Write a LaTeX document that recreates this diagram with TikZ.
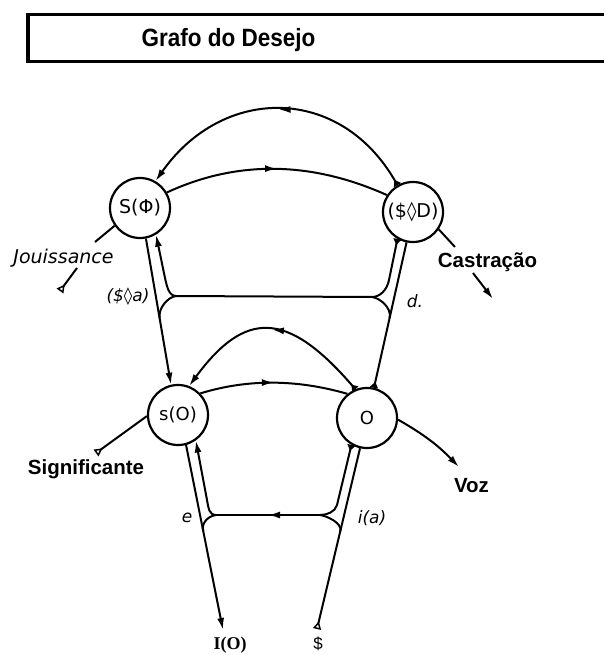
\documentclass[tikz,border=0pt]{standalone}
\usepackage{fontspec}
\setmainfont{Liberation Sans}
\newfontfamily\titulofont[FakeStretch=0.9]{Liberation Sans}
\newfontfamily\grafofont{DejaVu Sans}
\newfontfamily\seriffont{Liberation Serif}
\usetikzlibrary{arrows.meta,decorations.markings}

\tikzset{
  circulo/.style={draw,circle,line width=2.2pt,minimum size=60pt,inner sep=0pt,
    font=\grafofont\fontsize{19}{19}\selectfont},
  vetor/.style={line width=2pt},
  ponta/.style={arrows={-Latex[length=12pt,width=7pt]}},
  abre/.style={arrows={Triangle[reversed,length=6pt,width=8pt]-}},
  cauda/.style={arrows={-Triangle[open,reversed,length=8pt,width=8pt,line width=1.5pt]}},
  meio/.style={postaction={decorate},decoration={markings,
    mark=at position #1 with {\arrow{Latex[length=12pt,width=7pt]}}}},
  rotulo/.style={inner sep=0pt,anchor=base,font=\bfseries\fontsize{20.5}{20.5}\selectfont},
  ital/.style={inner sep=0pt,anchor=base,font=\grafofont\itshape\fontsize{17}{17}\selectfont}
}

\begin{document}
\begin{tikzpicture}[x=1pt,y=1pt]
  \useasboundingbox[fill=white] (0,0) rectangle (604,-655);
  %titulo
  \draw[line width=3.5pt] (28,-14.3) rectangle (612,-61.3);
  \node[inner sep=0pt,anchor=base,font=\titulofont\bfseries\fontsize{25}{25}\selectfont]
    (titulo) at (228.5,-46.5) {Grafo do Desejo};
  %nos
  \node[circulo] (sphi) at (140,-208) {S(Φ)};
  \node[circulo] (sbd) at (413,-212) {(\$◊D)};
  \node[circulo,font=\grafofont\fontsize{18}{18}\selectfont] (so) at (178,-415) {s(O)};
  \node[circulo,font=\grafofont\fontsize{18}{18}\selectfont] (ao) at (367,-418) {O};
  %pontos soltos
  \coordinate (j1) at (176,-296);
  \coordinate (j2) at (372,-297);
  \coordinate (j3) at (216,-515);
  \coordinate (j4) at (320,-515);
  \coordinate (ioend) at (223,-630);
  \coordinate (sbar) at (317,-629);
  \coordinate (cas1) at (455,-247);
  \coordinate (cas2) at (473,-273);
  \coordinate (cas3) at (493,-299);
  \coordinate (jou1) at (95,-242);
  \coordinate (jou2) at (77,-268);
  \coordinate (jou3) at (60,-291);
  \coordinate (sig1) at (96,-453);
  \coordinate (voz1) at (459,-467);
  \path (sphi.-79) -- (so.103) coordinate[pos=0.546] (jA);
  \path (sbd.-102) -- (ao.77) coordinate[pos=0.52] (jB);
  \path (so.-75) -- (ioend) coordinate[pos=0.466] (jC);
  \path (ao.-103) -- (sbar) coordinate[pos=0.459] (jD);
  %andar de cima
  \draw[vetor,arrows={Triangle[reversed,length=6pt,width=8pt]-Latex[length=12pt,width=7pt]},meio=0.5]
    (sbd.120) .. controls (340,-85) and (223,-85) .. (sphi.60);
  \draw[vetor,meio=0.5] (sphi.30) .. controls (237,-160) and (311,-161) .. (sbd.147);
  \draw[vetor,ponta] (sphi.-79) -- (so.103);
  \draw[vetor,ponta] (j1) .. controls (169,-296) and (167,-287) .. (165,-278) -- (sphi.-59);
  \draw[vetor] (j1) .. controls (168,-297) and (158,-308) .. (jA);
  \draw[vetor] (j1) -- (j2);
  \draw[vetor,abre] (sbd.-120) -- (389,-280) .. controls (387,-290) and (380,-297) .. (j2);
  \draw[vetor,arrows={-Triangle[reversed,length=6pt,width=8pt]}] (sbd.-102) -- (ao.77);
  \draw[vetor] (j2) .. controls (380,-298) and (392,-308) .. (jB);
  %andar de baixo
  \draw[vetor,arrows={Triangle[reversed,length=6pt,width=8pt]-Latex[length=12pt,width=7pt]},meio=0.5]
    (ao.112) .. controls (287,-310) and (245,-310) .. (so.69);
  \draw[vetor,meio=0.5] (so.44) .. controls (247,-379) and (296,-379) .. (ao.129);
  \draw[vetor,ponta] (so.-75) -- (ioend);
  \draw[vetor,ponta] (j3) .. controls (209,-515) and (208.5,-508) .. (207,-500) -- (so.-55);
  \draw[vetor] (j3) .. controls (209,-516) and (201,-522) .. (jC);
  \draw[vetor,meio=0.5] (j4) -- (j3);
  \draw[vetor,cauda] (ao.-103) -- (sbar);
  \draw[vetor,abre] (ao.-120) -- (337,-505) .. controls (335,-512) and (327,-515) .. (j4);
  \draw[vetor] (j4) .. controls (327,-516) and (342.4,-523) .. (jD);
  %saidas
  \draw[vetor] (sbd.-34) -- (cas1);
  \draw[vetor,ponta] (cas2) -- (cas3);
  \draw[vetor] (sphi.-145) -- (jou1);
  \draw[vetor,cauda] (jou2) -- (jou3);
  \draw[vetor,cauda] (so.-178) -- (sig1);
  \draw[vetor,ponta] (ao.-3) to[bend left=8] (voz1);
  %rotulos
  \node[rotulo] (castracao) at (487.5,-267) {Castração};
  \node[rotulo] (significante) at (86,-474) {Significante};
  \node[rotulo] (voz) at (471.5,-492) {Voz};
  \node[ital,font=\grafofont\itshape\fontsize{19}{19}\selectfont] (jouissance) at (63.5,-263) {Jouissance};
  \node[ital] (sbarra) at (128,-301) {(\$◊a)};
  \node[ital] (dlab) at (415,-307) {d.};
  \node[ital] (elab) at (187,-522) {e};
  \node[ital] (ilab) at (372,-523) {i(a)};
  \node[inner sep=0pt,anchor=base,font=\seriffont\bfseries\fontsize{18}{18}\selectfont] (io) at (230,-649) {I(O)};
  \node[inner sep=0pt,anchor=base,font=\fontsize{17}{17}\selectfont] (sujeito) at (318,-649) {\$};
\end{tikzpicture}
\end{document}
